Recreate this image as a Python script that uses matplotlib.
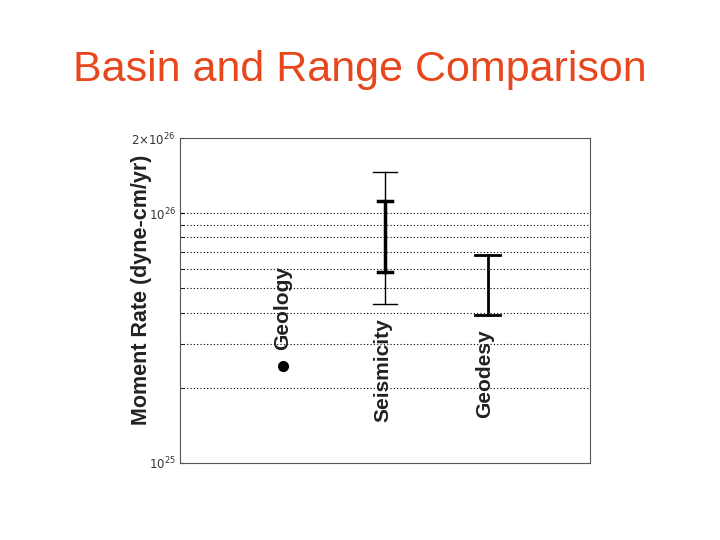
import matplotlib
matplotlib.use("Agg")
import matplotlib.pyplot as plt
from matplotlib.ticker import NullFormatter, FixedLocator

plt.rcParams['font.family'] = ['Liberation Sans', 'DejaVu Sans']

names = ["Geology", "Seismicity", "Geodesy"]
positions = [1, 2, 3]
geology_value = 2.44e25
seis_outer = (4.33e25, 1.46e26)
seis_inner = (5.8e25, 1.12e26)
geod_range = (3.9e25, 6.8e25)
grid_vals = [2e25, 3e25, 4e25, 5e25, 6e25, 7e25, 8e25, 9e25, 1e26]

fig = plt.figure(figsize=(7.2, 5.4), dpi=100)
ax = fig.add_axes([180/720, 1-463/540, 410/720, 325/540])
ax.set_yscale('log')
ax.set_ylim(1e25, 2e26)
ax.set_xlim(0, 4)
ax.set_xticks([])
ax.yaxis.set_major_locator(FixedLocator([1e25, 1e26, 2e26]))
ax.yaxis.set_minor_locator(FixedLocator(grid_vals))
ax.yaxis.set_minor_formatter(NullFormatter())
ax.set_yticklabels([r'$10^{25}$', r'$10^{26}$', r'$2{\times}10^{26}$'], fontsize=8.5, color='#333333')
ax.tick_params(axis='y', which='both', direction='in', length=3, pad=3)
for v in grid_vals:
    ax.axhline(v, color='black', linestyle=(0, (1, 2)), linewidth=0.8, zorder=0)
for s in ax.spines.values():
    s.set_color('#555555')

ax.plot([positions[0]], [geology_value], 'o', color='black', markersize=7)

def bar(x, lo, hi, lw, cap):
    ax.plot([x, x], [lo, hi], color='black', linewidth=lw)
    ax.plot([x - cap, x + cap], [lo, lo], color='black', linewidth=lw)
    ax.plot([x - cap, x + cap], [hi, hi], color='black', linewidth=lw)

bar(positions[1], *seis_outer, 1.0, 0.12)
bar(positions[1], *seis_inner, 2.5, 0.07)
bar(positions[2], *geod_range, 2.0, 0.12)

label_pos = [(283, 350), (383, 422), (485, 418)]
for n, (px, py) in zip(names, label_pos):
    fig.text(px/720, 1-py/540, n, rotation=90, ha='center', va='bottom',
             fontsize=15, fontweight='bold', color='#222222')

fig.text(141/720, 1-290/540, 'Moment Rate (dyne-cm/yr)', rotation=90, ha='center', va='center',
         fontsize=15.5, fontweight='bold', color='#222222')
fig.text(360/720, 1-70/540, 'Basin and Range Comparison', ha='center', va='center',
         fontsize=31, color='#E8461C')

fig.savefig('out.png', dpi=100)
